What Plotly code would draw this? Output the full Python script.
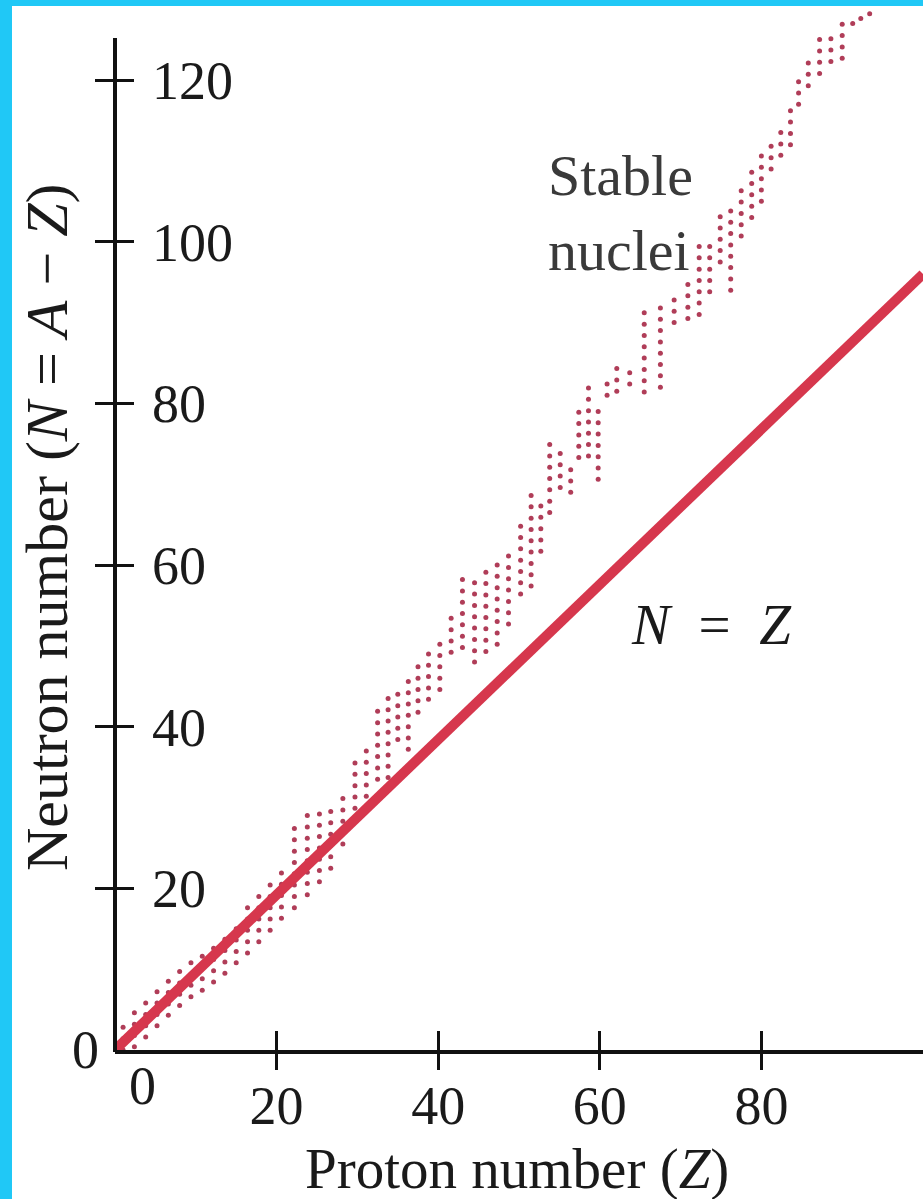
import plotly.graph_objects as go

# ---- data ----
# Stable-nuclei band: columns of dots (proton number Z, lowest N, highest N)
col_z = [1.0, 2.4, 3.8, 5.2, 6.6, 8.0, 9.4, 10.8, 12.2, 13.6, 15.0, 16.4, 17.8, 19.2, 20.6,
         22.2, 23.8, 25.3, 26.7, 28.2, 29.7, 31.1, 32.5, 33.8, 35.0, 36.3, 37.5, 38.8,
         40.2, 41.6, 43.0, 44.5, 45.9, 47.3, 48.7, 50.2, 51.5, 52.7, 53.8, 55.1, 56.4,
         57.4, 58.6, 59.8, 60.9, 62.1, 63.7, 65.5, 67.5, 69.2, 70.9, 72.3, 73.6, 74.9,
         76.2, 77.5, 78.8, 80.0, 81.2, 82.4, 83.6, 84.6, 85.8, 87.2, 88.6, 90.0, 91.3,
         92.3, 93.4]
col_n_low = [0.0, 0.4, 1.6, 3.0, 4.3, 5.5, 6.6, 7.4, 8.4, 9.5, 10.8, 12.0, 13.4, 14.8, 16.3,
             17.6, 19.2, 20.8, 22.5, 25.5, 28.5, 30.0, 33.5, 33.7, 38.4, 37.2, 41.8, 43.4,
             44.6, 49.2, 49.8, 48.0, 49.3, 50.2, 52.7, 56.4, 57.4, 61.7, 66.5, 69.6, 69.0,
             73.3, 73.5, 70.6, 81.0, 81.5, 82.4, 81.4, 82.0, 90.0, 90.5, 91.0, 93.8, 97.5,
             94.0, 100.7, 103.0, 105.0, 109.0, 110.7, 112.0, 117.0, 119.3, 120.8, 122.3,
             122.7, 127.0, 127.6, 128.2]
col_n_high = [3.2, 4.6, 6.0, 7.4, 8.7, 10.0, 11.3, 12.6, 13.8, 15.0, 16.3, 17.6, 19.0, 20.5, 22.0,
              28.2, 29.5, 30.0, 30.5, 32.2, 35.6, 37.5, 42.7, 43.6, 44.2, 45.6, 47.5, 49.2,
              50.8, 54.5, 58.5, 58.6, 60.1, 61.0, 61.3, 64.8, 68.8, 67.8, 75.6, 74.3, 73.0,
              78.9, 83.0, 79.0, 82.6, 84.5, 85.0, 92.0, 93.0, 93.0, 95.8, 99.4, 99.5, 103.8,
              104.5, 106.6, 108.7, 111.0, 113.0, 114.6, 116.5, 121.0, 122.7, 125.4, 125.4,
              127.6, 127.6, 127.6, 128.2]
dot_pitch = 1.4   # vertical spacing of the dots inside a column (N units)

# N = Z reference line, end points as drawn
line_z = [0, 100]
line_n = [0, 96]

x_ticks = [20, 40, 60, 80]
y_ticks = [20, 40, 60, 80, 100, 120]
y_axis_top = 125.2          # where the drawn y-axis line stops

# ---- build dot list from the columns ----
dots_z, dots_n = [], []
for z, lo, hi in zip(col_z, col_n_low, col_n_high):
    n = lo
    while n <= hi + 1e-9:
        dots_z.append(z)
        dots_n.append(n)
        n += dot_pitch

SERIF = "Liberation Serif, Times New Roman, serif"
RED = "#D6374D"
DOT = "#B03D58"
CYAN = "#20C8F6"
INK = "#1a1a1a"

fig = go.Figure()
fig.add_trace(go.Scatter(x=dots_z, y=dots_n, mode="markers",
                         marker=dict(size=5, color=DOT), cliponaxis=False,
                         hoverinfo="skip", showlegend=False))
fig.add_trace(go.Scatter(x=line_z, y=line_n, mode="lines",
                         line=dict(color=RED, width=10), showlegend=False))
# empty trace to activate the overlay axes (second half of the crossing ticks)
fig.add_trace(go.Scatter(x=[], y=[], xaxis="x2", yaxis="y2", showlegend=False))

W, H = 923, 1199
L, R, T, B = 115, 0, 4, 149
pw = W - L - R
ph = H - T - B
scale = (1050 - 38) / y_axis_top        # px per unit
xr = [0, 100]
yr = [0, ph / scale]

fig.update_layout(
    width=W, height=H,
    margin=dict(l=L, r=R, t=T, b=B, pad=0),
    paper_bgcolor="white", plot_bgcolor="white",
    font=dict(family=SERIF, size=54, color=INK),
    xaxis=dict(range=xr, showgrid=False, zeroline=False, showline=True,
               linecolor="#111", linewidth=4, ticks="inside", ticklen=19,
               tickwidth=3, tickcolor="#111", tickvals=x_ticks,
               ticktext=[str(v) for v in x_ticks], ticklabelstandoff=5,
               tickfont=dict(family=SERIF, size=54, color=INK)),
    yaxis=dict(range=yr, showgrid=False, zeroline=False, showline=False,
               ticks="outside", ticklen=19,
               tickwidth=3, tickcolor="#111", tickvals=y_ticks,
               ticktext=[str(v) for v in y_ticks],
               ticklabelposition="inside", ticklabelstandoff=34,
               tickfont=dict(family=SERIF, size=54, color=INK)),
    xaxis2=dict(range=xr, overlaying="x", anchor="y2", showgrid=False,
                zeroline=False, showline=False, ticks="outside", ticklen=19,
                tickwidth=3, tickcolor="#111", tickvals=x_ticks,
                showticklabels=False),
    yaxis2=dict(range=yr, overlaying="y", anchor="x2", showgrid=False,
                zeroline=False, showline=False, ticks="inside", ticklen=19,
                tickwidth=3, tickcolor="#111", tickvals=y_ticks,
                showticklabels=False),
    showlegend=False,
)

# y-axis line (stops below the top of the plotting area)
fig.add_shape(type="line", xref="paper", yref="paper", x0=0, x1=0,
              y0=-2 / ph, y1=y_axis_top * scale / ph,
              line=dict(color="#111", width=4), layer="above")

# zero labels at the origin
fig.add_annotation(x=0, y=0, xref="x", yref="y", text="0", showarrow=False,
                   xanchor="right", yanchor="middle", xshift=-14,
                   font=dict(family=SERIF, size=54, color=INK))
fig.add_annotation(x=0, y=0, xref="x", yref="y", text="0", showarrow=False,
                   xanchor="center", yanchor="top", xshift=27, yshift=-4,
                   font=dict(family=SERIF, size=54, color=INK))

# axis titles
fig.add_annotation(x=(517 - L) / pw, y=(1050 - 1169) / ph, xref="paper", yref="paper",
                   text="Proton number (<i>Z</i>)", showarrow=False,
                   xanchor="center", yanchor="middle",
                   font=dict(family=SERIF, size=57, color=INK))
fig.add_annotation(x=(47 - L) / pw, y=(1050 - 527) / ph, xref="paper", yref="paper",
                   text="Neutron number (<i>N</i> = <i>A</i> \u2212 <i>Z</i>)",
                   showarrow=False, textangle=-90,
                   xanchor="center", yanchor="middle",
                   font=dict(family=SERIF, size=60, color=INK))

# text labels
fig.add_annotation(x=53.4, y=103.6, xref="x", yref="y", text="Stable<br>nuclei",
                   showarrow=False, xanchor="left", yanchor="middle", align="left",
                   font=dict(family=SERIF, size=58, color="#3a3a3a"))
fig.add_annotation(x=73.8, y=52.6, xref="x", yref="y",
                   text="<i>N</i>\u2002=\u2002<i>Z</i>", showarrow=False,
                   xanchor="center", yanchor="middle",
                   font=dict(family=SERIF, size=57, color=INK))

# cyan frame (top and left bands)
fig.add_shape(type="rect", xref="paper", yref="paper",
              x0=-L / pw, x1=(W - L) / pw, y0=1 + (T - 6) / ph, y1=1 + T / ph,
              fillcolor=CYAN, line_width=0, layer="above")
fig.add_shape(type="rect", xref="paper", yref="paper",
              x0=-L / pw, x1=(-L + 12) / pw, y0=-B / ph, y1=1 + T / ph,
              fillcolor=CYAN, line_width=0, layer="above")

fig.write_html("out.html", config={"displayModeBar": False},
               post_script="document.body.style.margin='0';document.body.style.padding='0';")
